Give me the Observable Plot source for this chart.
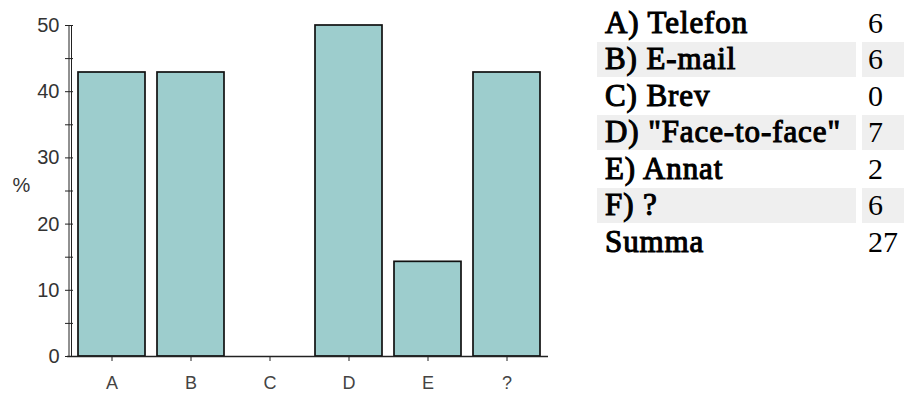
<!DOCTYPE html>
<html>
<head>
<meta charset="utf-8">
<script src="https://cdn.jsdelivr.net/npm/d3@7"></script>
<script src="https://cdn.jsdelivr.net/npm/@observablehq/plot@0.6"></script>
<style>
  html, body { margin: 0; padding: 0; background: #fff; }
  #wrap { position: relative; width: 904px; height: 394px; overflow: hidden; }
  #chart { position: absolute; left: 0; top: 0; }
  #tbl { position: absolute; left: 591px; top: 3.5px; border-collapse: separate; border-spacing: 6px 2px;
         table-layout: fixed; width: 327px;
         font-family: "Liberation Serif", "Times New Roman", serif;
         font-size: 30px; line-height: 34.5px; color: #000; }
  #tbl td { padding: 0; white-space: nowrap; box-sizing: border-box; overflow: visible; }
  #tbl td.lab { font-weight: normal; font-size: 31px; padding-left: 8px; -webkit-text-stroke: 1.1px #000; letter-spacing: 0.9px; }
  #tbl td.val { padding-left: 6px; }
  #tbl tr.alt td { background: #efefef; }
</style>
</head>
<body>
<div id="wrap">
  <div id="chart"></div>
  <table id="tbl"><colgroup><col style="width:259px"><col style="width:50px"></colgroup><tbody></tbody></table>
</div>
<script>
// Chart data
const categories = ["A", "B", "C", "D", "E", "?"];
const percents = [42.9, 42.9, 0, 50, 14.3, 42.9];
const yTicks = [0, 10, 20, 30, 40, 50];
const yMinorTicks = [0, 5, 10, 15, 20, 25, 30, 35, 40, 45, 50];

// Table data
const rowLabels = ["A) Telefon", "B) E-mail", "C) Brev", "D) \"Face-to-face\"", "E) Annat", "F) ?", "Summa"];
const rowCounts = [6, 6, 0, 7, 2, 6, 27];

const data = categories.map((c, i) => ({cat: c, pct: percents[i]}));

const chart = Plot.plot({
  width: 560,
  height: 394,
  marginLeft: 70,
  marginRight: 12,
  marginTop: 25,
  marginBottom: 38,
  style: {fontFamily: "'Liberation Sans', Arial, sans-serif", color: "#222", background: "transparent"},
  x: {domain: categories, paddingInner: 0.146, paddingOuter: 0.075, label: null},
  y: {domain: [0, 50], label: null},
  marks: [
    Plot.barY(data, {x: "cat", y: "pct", fill: "#9dcdcd", stroke: "#111", strokeWidth: 1.7}),
    Plot.ruleY([0], {stroke: "#222", strokeWidth: 1.7, insetLeft: -3}),
    Plot.frame({anchor: "left", stroke: "#222", dx: -1.5}),
    Plot.frame({anchor: "left", stroke: "#222", dx: 1}),
    Plot.axisY(yMinorTicks, {tickSize: 8, dx: 3, tickFormat: () => "", stroke: "#222"}),
    Plot.axisY(yTicks, {tickSize: 0, tickPadding: 11, fontSize: 20, fill: "#333"}),
    Plot.axisX({tickSize: 5, tickPadding: 15, fontSize: 18, fill: "#444", stroke: "#222"}),
    Plot.text(["%"], {frameAnchor: "left", dx: -58, dy: -5, textAnchor: "start", fontSize: 20, fill: "#333"})
  ]
});
document.getElementById("chart").appendChild(chart);

const tbody = d3.select("#tbl tbody");
rowLabels.forEach((lab, i) => {
  const tr = tbody.append("tr").attr("class", (i % 2 === 1 && i < 6) ? "alt" : null);
  tr.append("td").attr("class", "lab").text(lab);
  tr.append("td").attr("class", "val").text(rowCounts[i]);
});
</script>
</body>
</html>
